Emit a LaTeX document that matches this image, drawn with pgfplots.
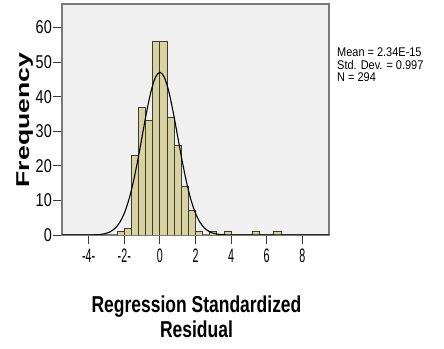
\documentclass[border=0pt]{standalone}
\usepackage{pgfplots}
\pgfplotsset{compat=1.18}
\usepackage{fontspec}
\setmainfont{Liberation Sans}
\usepackage{graphicx}
\definecolor{bgc}{HTML}{F0F0F0}
\definecolor{barc}{HTML}{D7D29E}
\definecolor{framec}{HTML}{7A7A7A}
\definecolor{edgec}{HTML}{3A3A3A}
\begin{document}
\begin{tikzpicture}[x=1pt,y=1pt]
\path[use as bounding box] (0,0) rectangle (444,348);
\begin{axis}[
  at={(62pt,113pt)}, anchor=south west,
  width=267pt, height=231pt, scale only axis,
  xmin=-5.5, xmax=9.5, ymin=0, ymax=66.8,
  axis background/.style={fill=bgc},
  axis line style={draw=framec, line width=1.8pt},
  xtick={-4,-2,0,2,4,6,8},
  ytick={0,10,20,30,40,50,60},
  tick align=outside, major tick length=9pt,
  xtick pos=bottom, ytick pos=left,
  tick style={draw=edgec, line width=0.9pt},
  /pgf/number format/assume math mode=true,
  xticklabel style={inner sep=1pt, yshift=-4pt},
  xticklabels={\scalebox{0.55}[1]{\fontsize{19.5}{20}\selectfont -4-},\scalebox{0.55}[1]{\fontsize{19.5}{20}\selectfont -2-},\scalebox{0.55}[1]{\fontsize{19.5}{20}\selectfont 0},\scalebox{0.55}[1]{\fontsize{19.5}{20}\selectfont 2},\scalebox{0.55}[1]{\fontsize{19.5}{20}\selectfont 4},\scalebox{0.55}[1]{\fontsize{19.5}{20}\selectfont 6},\scalebox{0.55}[1]{\fontsize{19.5}{20}\selectfont 8}},
  yticklabel={\scalebox{0.78}[1]{\fontsize{18.5}{19}\selectfont\pgfmathprintnumber{\tick}}},
  yticklabel style={inner sep=0pt, xshift=-1pt},
  clip=true,
]
\addplot[ybar, bar width=0.4, bar shift=0pt, fill=barc, draw=edgec, line width=0.8pt] coordinates {
(-2.2,1) (-1.8,2) (-1.4,23) (-1.0,37) (-0.6,33) (-0.2,56) (0.2,56) (0.6,34) (1.0,26) (1.4,14) (1.8,7) (2.2,1) (3.0,1) (3.8,1) (5.4,1) (6.6,1)
};
\addplot[black, line width=1.1pt, smooth, mark=none] coordinates {
(-5.5,0) (-4.5,0.001) (-4,0.015) (-3.75,0.04) (-3.5,0.10) (-3.25,0.232) (-3,0.51) (-2.75,1.05) (-2.5,2.03) (-2.25,3.69) (-2,6.29) (-1.75,10.09) (-1.5,15.18) (-1.25,21.45) (-1,28.46) (-0.75,35.46) (-0.5,41.5) (-0.25,45.6) (0,47.06)
(0.25,45.6) (0.5,41.5) (0.75,35.46) (1,28.46) (1.25,21.45) (1.5,15.18) (1.75,10.09) (2,6.29) (2.25,3.69) (2.5,2.03) (2.75,1.05) (3,0.51) (3.25,0.232) (3.5,0.10) (3.75,0.04) (4,0.015) (4.5,0.001) (5.5,0) (9.5,0)
};
\end{axis}
\node[anchor=base west, inner sep=0pt, align=left] at (337,291) {\scalebox{0.87}[1]{\fontsize{12.6}{13}\selectfont Mean = 2.34E-15}};
\node[anchor=base west, inner sep=0pt, align=left] at (337,278.5) {\scalebox{0.87}[1]{\fontsize{12.6}{13}\selectfont Std. Dev. = 0.997}};
\node[anchor=base west, inner sep=0pt, align=left] at (337,266) {\scalebox{0.87}[1]{\fontsize{12.6}{13}\selectfont N = 294}};
\node[anchor=base, inner sep=0pt] at (196.5,36) {\scalebox{0.76}[1]{\fontsize{23}{25}\selectfont\bfseries Regression Standardized}};
\node[anchor=base, inner sep=0pt] at (196.5,11) {\scalebox{0.76}[1]{\fontsize{23}{25}\selectfont\bfseries Residual}};
\node[rotate=90, anchor=base, inner sep=0pt] at (29,228) {\scalebox{1.43}[1]{\fontsize{18.6}{19}\selectfont\bfseries Frequency}};
\end{tikzpicture}
\end{document}
